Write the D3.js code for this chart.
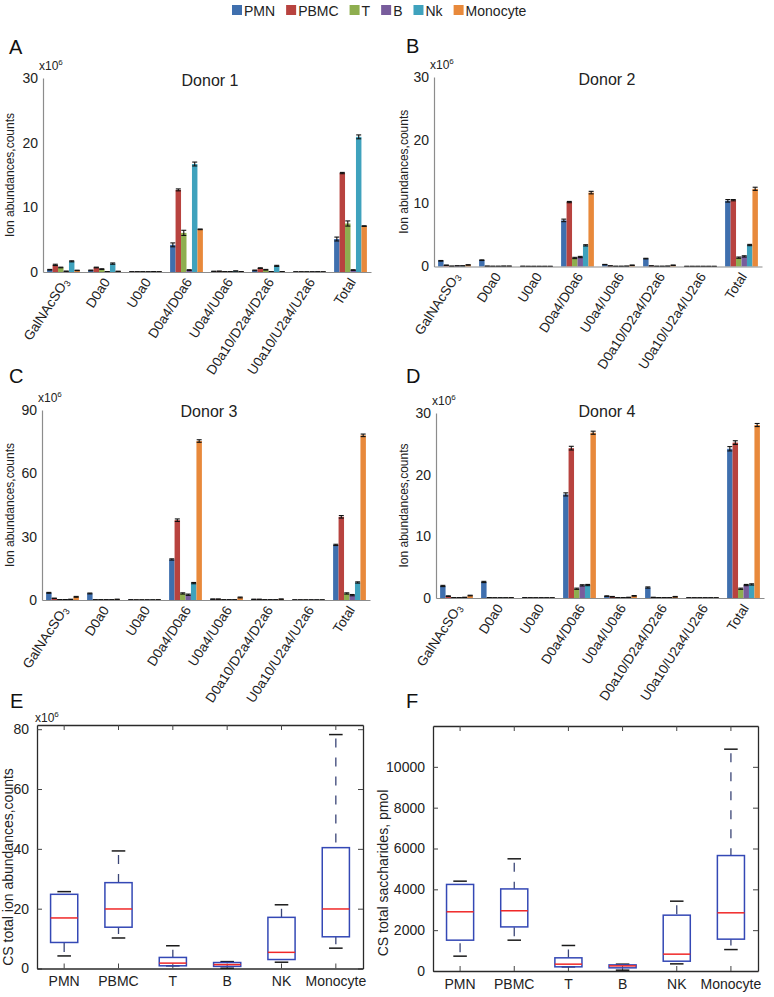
<!DOCTYPE html>
<html>
<head>
<meta charset="utf-8">
<script src="https://cdn.jsdelivr.net/npm/d3@7"></script>
<style>
  body { margin: 0; background: #fff; }
  svg { font-family: Arial, "Liberation Sans", sans-serif; }
</style>
</head>
<body>
<div id="chart"></div>
<script>

// ---- data ----
var categories = ["GalNAcSO3", "D0a0", "U0a0", "D0a4/D0a6", "U0a4/U0a6",
                  "D0a10/D2a4/D2a6", "U0a10/U2a4/U2a6", "Total"];
var seriesNames = ["PMN", "PBMC", "T", "B", "Nk", "Monocyte"];
var seriesColors = ["#3f6fae", "#b8433f", "#8eae4f", "#785c9c", "#3fa2bd", "#e8893b"];

// rows = series (PMN, PBMC, T, B, Nk, Monocyte), columns = categories, x10^6 counts
var donor1Values = [
  [0.35, 0.25, 0.03, 4.2, 0.1, 0.25, 0.02, 5.1],
  [1.1, 0.7, 0.03, 12.7, 0.12, 0.6, 0.02, 15.3],
  [0.7, 0.45, 0.03, 6.05, 0.05, 0.35, 0.02, 7.5],
  [0.1, 0.05, 0.02, 0.3, 0.05, 0.05, 0.02, 0.3],
  [1.65, 1.3, 0.05, 16.7, 0.15, 0.95, 0.03, 20.9],
  [0.25, 0.1, 0.03, 6.6, 0.05, 0.05, 0.02, 7.1]
];
var donor1Errors = [
  [0.05, 0.05, 0, 0.3, 0, 0.05, 0, 0.3],
  [0.1, 0.05, 0, 0.15, 0, 0.05, 0, 0.1],
  [0.05, 0.05, 0, 0.4, 0, 0.05, 0, 0.4],
  [0.05, 0, 0, 0.05, 0, 0, 0, 0.05],
  [0.08, 0.1, 0, 0.3, 0, 0.08, 0, 0.3],
  [0.03, 0, 0, 0.05, 0, 0, 0, 0.05]
];

var donor2Values = [
  [0.9, 1.0, 0.03, 7.3, 0.3, 1.25, 0.02, 10.4],
  [0.2, 0.05, 0.02, 10.2, 0.1, 0.1, 0.02, 10.5],
  [0.05, 0.03, 0.02, 1.35, 0.03, 0.03, 0.02, 1.4],
  [0.1, 0.03, 0.02, 1.5, 0.03, 0.03, 0.02, 1.6],
  [0.1, 0.05, 0.02, 3.35, 0.05, 0.05, 0.02, 3.4],
  [0.25, 0.05, 0.02, 11.7, 0.2, 0.2, 0.02, 12.3]
];
var donor2Errors = [
  [0.05, 0.05, 0, 0.2, 0.03, 0.05, 0, 0.2],
  [0.03, 0, 0, 0.1, 0, 0, 0, 0.1],
  [0, 0, 0, 0.1, 0, 0, 0, 0.1],
  [0, 0, 0, 0.1, 0, 0, 0, 0.1],
  [0, 0, 0, 0.1, 0, 0, 0, 0.1],
  [0.03, 0, 0, 0.2, 0.03, 0.03, 0, 0.25]
];

var donor3Values = [
  [3.4, 3.1, 0.1, 19.2, 0.4, 0.3, 0.05, 26.1],
  [0.8, 0.1, 0.05, 37.8, 0.4, 0.3, 0.05, 39.4],
  [0.2, 0.1, 0.05, 3.1, 0.1, 0.1, 0.05, 3.1],
  [0.2, 0.1, 0.05, 2.5, 0.1, 0.1, 0.05, 2.3],
  [0.3, 0.1, 0.05, 8.0, 0.1, 0.1, 0.05, 8.3],
  [1.5, 0.3, 0.1, 75.3, 1.2, 0.4, 0.05, 78.0]
];
var donor3Errors = [
  [0.2, 0.2, 0, 0.3, 0.1, 0.1, 0, 0.3],
  [0.1, 0, 0, 0.6, 0.1, 0.1, 0, 0.6],
  [0, 0, 0, 0.3, 0, 0, 0, 0.3],
  [0, 0, 0, 0.3, 0, 0, 0, 0.3],
  [0, 0, 0, 0.3, 0, 0, 0, 0.3],
  [0.2, 0.1, 0, 0.6, 0.2, 0.1, 0, 0.6]
];

var donor4Values = [
  [1.95, 2.6, 0.05, 16.8, 0.3, 1.7, 0.03, 24.2],
  [0.3, 0.05, 0.03, 24.3, 0.2, 0.1, 0.03, 25.2],
  [0.05, 0.03, 0.03, 1.5, 0.05, 0.05, 0.03, 1.5],
  [0.05, 0.03, 0.03, 2.05, 0.05, 0.05, 0.03, 2.1],
  [0.1, 0.03, 0.03, 2.1, 0.1, 0.05, 0.03, 2.2],
  [0.4, 0.05, 0.03, 26.8, 0.35, 0.2, 0.03, 28.05]
];
var donor4Errors = [
  [0.1, 0.1, 0, 0.25, 0.05, 0.1, 0, 0.35],
  [0.05, 0, 0, 0.3, 0.05, 0, 0, 0.3],
  [0, 0, 0, 0.1, 0, 0, 0, 0.1],
  [0, 0, 0, 0.1, 0, 0, 0, 0.1],
  [0, 0, 0, 0.1, 0, 0, 0, 0.1],
  [0.05, 0, 0, 0.25, 0.05, 0.05, 0, 0.25]
];

// box plot summaries: whisker low, Q1, median, Q3, whisker high
var boxLabels = ["PMN", "PBMC", "T", "B", "NK", "Monocyte"];
var ionLow    = [4.2, 10.2, 0.9, 0.1, 2.1, 6.8];
var ionQ1     = [8.7, 13.8, 0.9, 0.7, 3.0, 10.6];
var ionMedian = [16.9, 19.9, 1.8, 1.3, 5.4, 19.9];
var ionQ3     = [24.8, 28.7, 3.7, 2.0, 17.1, 40.4];
var ionHigh   = [25.7, 39.3, 7.6, 2.3, 21.3, 78.2];

var pmolLow    = [727, 1510, 204, 40, 350, 1050];
var pmolQ1     = [1510, 2160, 204, 155, 480, 1560];
var pmolMedian = [2900, 2950, 335, 250, 825, 2850];
var pmolQ3     = [4240, 4020, 645, 300, 2735, 5655];
var pmolHigh   = [4400, 5495, 1250, 335, 3420, 10865];

// ---- layout ----
var width = 774, height = 997;
var textColor = "#222";
var axisGray = "#8c8c8c";

var svg = d3.select("#chart").append("svg")
    .attr("width", width)
    .attr("height", height);

/* Legend */
var legend = svg.append("g").attr("class", "legend");
var lx = 232;
seriesNames.forEach(function(name, i) {
    legend.append("rect")
        .attr("x", lx).attr("y", 5)
        .attr("width", 10).attr("height", 10)
        .attr("fill", seriesColors[i]);
    var t = legend.append("text")
        .attr("x", lx + 12).attr("y", 15.5)
        .attr("font-size", "14px")
        .attr("fill", textColor)
        .text(name);
    lx += 12 + t.node().getComputedTextLength() + 11;
});

function panelLetter(letter, x, y) {
    svg.append("text")
        .attr("x", x).attr("y", y)
        .attr("font-size", "20px")
        .attr("fill", "#111")
        .text(letter);
}

function times106(x, y) {
    var t = svg.append("text")
        .attr("x", x).attr("y", y)
        .attr("font-size", "12px")
        .attr("fill", textColor)
        .text("x10");
    t.append("tspan")
        .attr("font-size", "8px")
        .attr("dy", "-5")
        .text("6");
}

/* Bar chart panel with error bars */
function barPanel(p) {
    var x = d3.scaleBand()
        .domain(categories)
        .range([p.x0, p.x1])
        .paddingInner(0.2)
        .paddingOuter(0.1);
    var xs = d3.scaleBand()
        .domain(seriesNames)
        .range([0, x.bandwidth()]);
    var y = d3.scaleLinear()
        .domain([0, p.max])
        .range([p.y0, p.yTop]);

    var g = svg.append("g");

    p.values.forEach(function(row, si) {
        var rows = row.map(function(v, ci) {
            return { c: categories[ci], v: v, e: p.errors[si][ci] };
        });
        var sg = g.append("g").attr("class", "series");
        sg.selectAll("rect")
            .data(rows).enter()
            .append("rect")
            .attr("x", d => x(d.c) + xs(seriesNames[si]))
            .attr("width", xs.bandwidth())
            .attr("y", d => y(d.v))
            .attr("height", d => y(0) - y(d.v))
            .attr("fill", seriesColors[si]);

        // error bars
        var eg = sg.selectAll("g.err")
            .data(rows).enter()
            .append("g").attr("class", "err")
            .attr("stroke", "#111")
            .attr("stroke-width", 1.1);
        var cx = d => x(d.c) + xs(seriesNames[si]) + xs.bandwidth() / 2;
        eg.append("line")
            .attr("x1", cx).attr("x2", cx)
            .attr("y1", d => y(d.v + d.e)).attr("y2", d => y(Math.max(0, d.v - d.e)));
        eg.append("line")
            .attr("x1", d => cx(d) - 2.5).attr("x2", d => cx(d) + 2.5)
            .attr("y1", d => y(d.v + d.e)).attr("y2", d => y(d.v + d.e));
        eg.append("line")
            .attr("x1", d => cx(d) - 2.5).attr("x2", d => cx(d) + 2.5)
            .attr("y1", d => y(Math.max(0, d.v - d.e))).attr("y2", d => y(Math.max(0, d.v - d.e)));
    });

    // y axis
    var yAxisG = g.append("g")
        .attr("transform", `translate(${p.x0},0)`)
        .call(d3.axisLeft(y).tickValues(p.ticks).tickSize(0).tickPadding(5));
    yAxisG.attr("font-family", null);
    yAxisG.select(".domain").attr("stroke", axisGray).attr("stroke-width", 1.2);
    yAxisG.selectAll("text").attr("font-size", "14px").attr("fill", textColor);

    // x axis
    var xAxisG = g.append("g")
        .attr("transform", `translate(0,${p.y0})`)
        .call(d3.axisBottom(x).tickSize(0));
    xAxisG.attr("font-family", null);
    xAxisG.select(".domain").attr("stroke", axisGray).attr("stroke-width", 1.2);
    xAxisG.selectAll("text")
        .attr("font-size", "13.5px")
        .attr("fill", textColor)
        .attr("y", 0).attr("dy", 0)
        .attr("text-anchor", "end")
        .attr("transform", "translate(6,10) rotate(-57)")
        .each(function(d) {
            if (d === "GalNAcSO3") {
                var t = d3.select(this).text("GalNAcSO");
                t.append("tspan").attr("font-size", "9px").attr("dy", "2").text("3");
            }
        });

    // y axis title
    svg.append("text")
        .attr("transform", `translate(${p.labelX},${(p.y0 + p.yTop) / 2}) rotate(-90)`)
        .attr("text-anchor", "middle")
        .attr("font-size", "12px")
        .attr("fill", textColor)
        .text("Ion abundances,counts");

    // title
    svg.append("text")
        .attr("x", p.titleX).attr("y", p.titleY)
        .attr("text-anchor", "middle")
        .attr("font-size", "16px")
        .attr("fill", textColor)
        .text(p.title);

    times106(p.x0 - 4, p.yTop - 8);
}

/* Box plot panel */
function boxPanel(p) {
    var x = d3.scaleBand().domain(boxLabels).range([p.x0, p.x1]);
    var y = d3.scaleLinear().domain(p.domain).range([p.y0, p.yTop]);
    var g = svg.append("g");
    var rows = boxLabels.map(function(c, i) {
        return { c: c, lo: p.low[i], q1: p.q1[i], med: p.median[i], q3: p.q3[i], hi: p.high[i] };
    });
    var bw = x.bandwidth() / 2;
    var cx = d => x(d.c) + x.bandwidth() / 2;

    var axes = [
        { gen: d3.axisLeft(y).tickValues(p.ticks).tickFormat(d3.format("d")), t: `translate(${p.x0},0)`, labels: true },
        { gen: d3.axisRight(y).tickValues(p.ticks).tickFormat(""), t: `translate(${p.x1},0)` },
        { gen: d3.axisBottom(x), t: `translate(0,${p.y0})`, labels: true },
        { gen: d3.axisTop(x).tickFormat(""), t: `translate(0,${p.yTop})` }
    ];
    axes.forEach(function(a) {
        var ag = g.append("g")
            .attr("transform", a.t)
            .call(a.gen.tickSizeInner(-5).tickSizeOuter(0).tickPadding(a.labels ? 8 : 0));
        ag.attr("font-family", null);
        ag.select(".domain").attr("stroke", "#2a2a2a").attr("stroke-width", 1.3);
        ag.selectAll(".tick line").attr("stroke", "#444");
        ag.selectAll("text").attr("font-size", "14px").attr("fill", textColor);
    });

    var bg = g.selectAll("g.box").data(rows).enter().append("g").attr("class", "box");
    // whiskers
    bg.append("line")
        .attr("x1", cx).attr("x2", cx)
        .attr("y1", d => y(d.hi)).attr("y2", d => y(d.q3))
        .attr("stroke", "#3b4677").attr("stroke-width", 1.3)
        .attr("stroke-dasharray", "9,10").attr("stroke-dashoffset", -4);
    bg.append("line")
        .attr("x1", cx).attr("x2", cx)
        .attr("y1", d => y(d.lo)).attr("y2", d => y(d.q1))
        .attr("stroke", "#3b4677").attr("stroke-width", 1.3)
        .attr("stroke-dasharray", "9,10").attr("stroke-dashoffset", -4);
    // caps
    ["lo", "hi"].forEach(function(k) {
        bg.append("line")
            .attr("x1", d => cx(d) - bw / 4).attr("x2", d => cx(d) + bw / 4)
            .attr("y1", d => y(d[k])).attr("y2", d => y(d[k]))
            .attr("stroke", "#1a1a1a").attr("stroke-width", 1.5);
    });
    // box
    bg.append("rect")
        .attr("x", d => cx(d) - bw / 2).attr("width", bw)
        .attr("y", d => y(d.q3)).attr("height", d => y(d.q1) - y(d.q3))
        .attr("fill", "none").attr("stroke", "#3448b5").attr("stroke-width", 1.5);
    // median
    bg.append("line")
        .attr("x1", d => cx(d) - bw / 2).attr("x2", d => cx(d) + bw / 2)
        .attr("y1", d => y(d.med)).attr("y2", d => y(d.med))
        .attr("stroke", "#f02828").attr("stroke-width", 1.5);

    svg.append("text")
        .attr("transform", `translate(${p.labelX},${p.labelY}) rotate(-90)`)
        .attr("text-anchor", "middle")
        .attr("font-size", "14px")
        .attr("fill", textColor)
        .text(p.label);

    if (p.exp) times106(p.x0 - 2, p.yTop - 3);
}

// ---- draw ----
panelLetter("A", 9, 54);
panelLetter("B", 406, 53);
panelLetter("C", 9, 383);
panelLetter("D", 406, 383);
panelLetter("E", 10, 708);
panelLetter("F", 406, 708);

barPanel({ values: donor1Values, errors: donor1Errors, title: "Donor 1",
    x0: 43, x1: 371, y0: 272, yTop: 78, max: 30, ticks: [0, 10, 20, 30],
    labelX: 14, titleX: 210, titleY: 86 });
barPanel({ values: donor2Values, errors: donor2Errors, title: "Donor 2",
    x0: 434, x1: 762, y0: 266.5, yTop: 77, max: 30, ticks: [0, 10, 20, 30],
    labelX: 408, titleX: 607, titleY: 85 });
barPanel({ values: donor3Values, errors: donor3Errors, title: "Donor 3",
    x0: 42, x1: 370, y0: 600, yTop: 410, max: 90, ticks: [0, 30, 60, 90],
    labelX: 14, titleX: 209, titleY: 417 });
barPanel({ values: donor4Values, errors: donor4Errors, title: "Donor 4",
    x0: 436, x1: 764, y0: 598, yTop: 413, max: 30, ticks: [0, 10, 20, 30],
    labelX: 408, titleX: 607, titleY: 417 });

boxPanel({ low: ionLow, q1: ionQ1, median: ionMedian, q3: ionQ3, high: ionHigh,
    x0: 37, x1: 363, y0: 968.5, yTop: 725, domain: [0, 81.4], ticks: [0, 20, 40, 60, 80],
    label: "CS total ion abundances,counts", labelX: 13, labelY: 867, exp: true });
boxPanel({ low: pmolLow, q1: pmolQ1, median: pmolMedian, q3: pmolQ3, high: pmolHigh,
    x0: 433, x1: 758, y0: 971, yTop: 726, domain: [0, 12000], ticks: [0, 2000, 4000, 6000, 8000, 10000],
    label: "CS total saccharides, pmol", labelX: 388, labelY: 873, exp: false });

</script>
</body>
</html>
